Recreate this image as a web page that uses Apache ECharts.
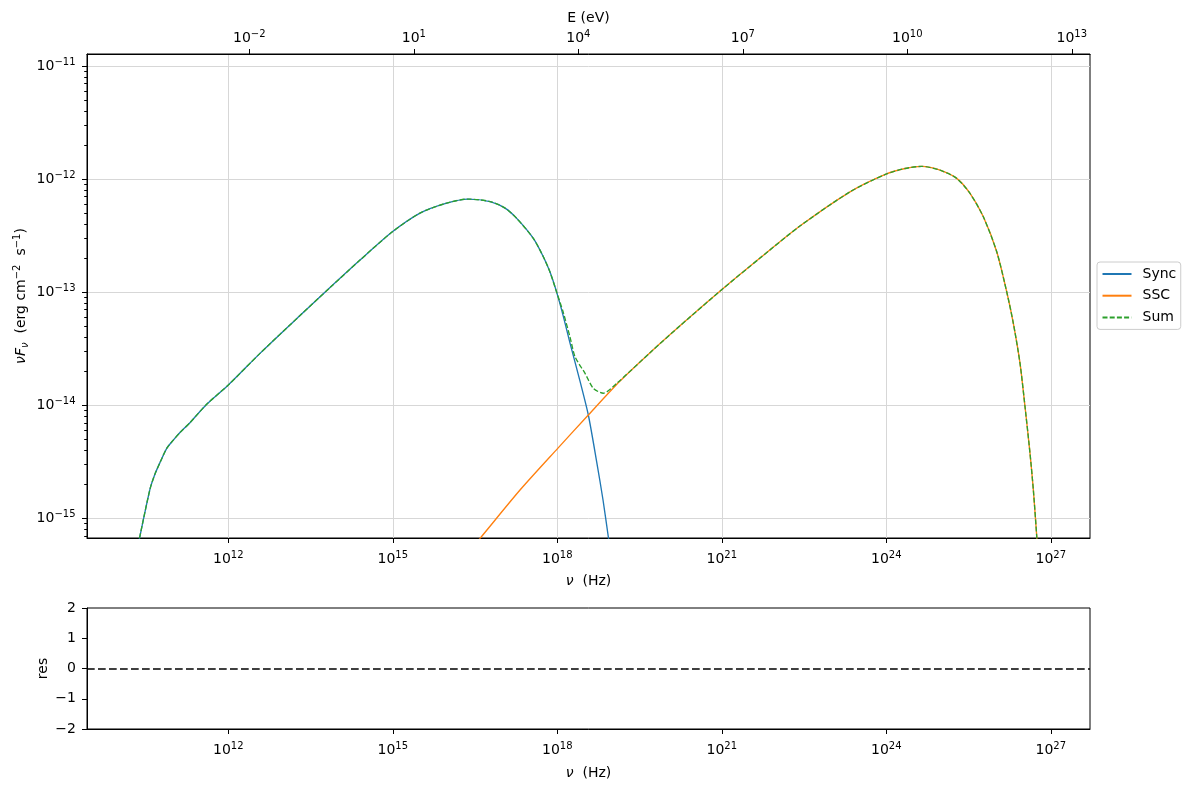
<!DOCTYPE html>
<html>
<head>
<meta charset="utf-8">
<script src="https://cdn.jsdelivr.net/npm/echarts@6/dist/echarts.min.js"></script>
<style>
html,body{margin:0;padding:0;background:#fff;}
#chart{width:1189px;height:789px;}
</style>
</head>
<body>
<div id="chart"></div>
<script>
// ---- data (log10 values) ----
const syncLogNu = [10.33, 10.380, 10.572, 10.663, 10.754, 10.877, 10.997, 11.119, 11.301, 11.606, 12.0, 12.578, 13.308, 13.855, 14.402, 14.986, 15.496, 15.952, 16.372, 16.773, 17.047, 17.260, 17.563, 17.745, 17.867, 17.989, 18.104, 18.232, 18.414, 18.566, 18.719, 18.834, 18.930, 18.998];
const syncLogF  = [-15.30, -15.177, -14.741, -14.608, -14.507, -14.381, -14.308, -14.241, -14.154, -13.991, -13.821, -13.541, -13.206, -12.959, -12.716, -12.468, -12.300, -12.216, -12.176, -12.198, -12.256, -12.347, -12.524, -12.686, -12.822, -13.001, -13.202, -13.450, -13.786, -14.086, -14.502, -14.838, -15.163, -15.39];

const sscLogNu = [16.408, 16.591, 17.320, 18.008, 18.566, 19.144, 19.691, 20.238, 21.013, 21.697, 22.424, 23.339, 23.983, 24.342, 24.646, 24.980, 25.284, 25.527, 25.770, 26.014, 26.196, 26.317, 26.439, 26.530, 26.621, 26.682, 26.744, 26.768];
const sscLogF  = [-15.28, -15.177, -14.750, -14.381, -14.086, -13.786, -13.535, -13.297, -12.972, -12.698, -12.415, -12.112, -11.958, -11.906, -11.887, -11.920, -11.993, -12.126, -12.333, -12.642, -12.996, -13.275, -13.629, -14.013, -14.425, -14.750, -15.163, -15.37];

const sumLogNu = [10.33, 10.380, 10.572, 10.663, 10.754, 10.877, 10.997, 11.119, 11.301, 11.606, 12.0, 12.578, 13.308, 13.855, 14.402, 14.986, 15.496, 15.952, 16.372, 16.773, 17.047, 17.260, 17.563, 17.745, 17.867, 17.989, 18.104, 18.232, 18.324, 18.506, 18.657, 18.839, 19.084, 19.691, 20.238, 21.013, 21.697, 22.424, 23.339, 23.983, 24.342, 24.646, 24.980, 25.284, 25.527, 25.770, 26.014, 26.196, 26.317, 26.439, 26.530, 26.621, 26.682, 26.744, 26.768];
const sumLogF  = [-15.30, -15.177, -14.741, -14.608, -14.507, -14.381, -14.308, -14.241, -14.154, -13.991, -13.821, -13.541, -13.206, -12.959, -12.716, -12.468, -12.300, -12.216, -12.176, -12.198, -12.256, -12.347, -12.524, -12.686, -12.822, -13.001, -13.171, -13.397, -13.571, -13.718, -13.850, -13.894, -13.806, -13.535, -13.297, -12.972, -12.698, -12.415, -12.112, -11.958, -11.906, -11.887, -11.920, -11.993, -12.126, -12.333, -12.642, -12.996, -13.275, -13.629, -14.013, -14.425, -14.750, -15.163, -15.37];

const nuTicks = [12, 15, 18, 21, 24, 27];
const eTicks = [-2, 1, 4, 7, 10, 13];
const fluxTicks = [-15, -14, -13, -12, -11];

// ---- axis ranges (log10) ----
const LOG_H = Math.log10(4.135667696e-15); // eV s
const xMin = 9.423, xMax = 27.715;
const yMin = -15.174, yMax = -10.893;

const minorTicks = [];
for (let n = -16; n <= -11; n++) {
  for (let k = 2; k <= 9; k++) {
    const v = n + Math.log10(k);
    if (v > yMin && v < yMax) minorTicks.push(v);
  }
}

const FONT = 'DejaVu Sans';
const FS = 14, SFS = 10;
function sci(v) {
  const e = Math.round(v);
  const s = e < 0 ? '\u2212' + (-e) : '' + e;
  return '{b|10}{s|' + s + '}';
}
const sciRich = {
  b: {fontFamily: FONT, fontSize: FS, lineHeight: 18, color: '#000'},
  s: {fontFamily: FONT, fontSize: SFS, lineHeight: 10, verticalAlign: 'top', color: '#000'}
};
const nameRich = {
  i: {fontFamily: FONT, fontSize: FS, fontStyle: 'italic', lineHeight: 18, color: '#000'},
  isub: {fontFamily: FONT, fontSize: SFS, fontStyle: 'italic', lineHeight: 10, verticalAlign: 'bottom', color: '#000'},
  n: {fontFamily: FONT, fontSize: FS, lineHeight: 18, color: '#000'},
  s: {fontFamily: FONT, fontSize: SFS, lineHeight: 10, verticalAlign: 'top', color: '#000'}
};
const blackLine = {show: true, onZero: false, lineStyle: {color: '#000', width: 1}};
const gridLine = {show: true, lineStyle: {color: '#d7d7d7', width: 1}};

const pairs = (xs, ys) => xs.map((x, i) => [x, ys[i]]);

const option = {
  animation: false,
  backgroundColor: '#fff',
  textStyle: {fontFamily: FONT},
  grid: [
    {left: 87, right: 99, top: 54, height: 484, show: true, borderColor: '#000', borderWidth: 1, backgroundColor: 'transparent', outerBoundsMode: 'none', containLabel: false},
    {left: 87, right: 99, top: 608, height: 121, show: true, borderColor: '#000', borderWidth: 1, backgroundColor: 'transparent', outerBoundsMode: 'none', containLabel: false}
  ],
  xAxis: [
    {
      type: 'value', gridIndex: 0, position: 'bottom', min: xMin, max: xMax,
      axisLine: blackLine,
      axisTick: {show: true, inside: false, length: 5, customValues: nuTicks, lineStyle: {color: '#000'}},
      axisLabel: {show: true, customValues: nuTicks, formatter: sci, rich: sciRich, margin: 12},
      splitLine: gridLine,
      name: '{i|ν}{n|  (Hz)}', nameLocation: 'middle', nameGap: 34, nameMoveOverlap: false,
      nameTextStyle: {rich: nameRich}
    },
    {
      type: 'value', gridIndex: 0, position: 'top', min: xMin + LOG_H, max: xMax + LOG_H,
      axisLine: blackLine,
      axisTick: {show: true, inside: false, length: 5, customValues: eTicks, lineStyle: {color: '#000'}},
      axisLabel: {show: true, customValues: eTicks, formatter: sci, rich: sciRich, margin: 7},
      splitLine: {show: false},
      name: 'E (eV)', nameLocation: 'middle', nameGap: 27, nameMoveOverlap: false,
      nameTextStyle: {fontFamily: FONT, fontSize: FS, lineHeight: 18, color: '#000'}
    },
    {
      type: 'value', gridIndex: 1, position: 'bottom', min: xMin, max: xMax,
      axisLine: blackLine,
      axisTick: {show: true, inside: false, length: 5, customValues: nuTicks, lineStyle: {color: '#000'}},
      axisLabel: {show: true, customValues: nuTicks, formatter: sci, rich: sciRich, margin: 12},
      splitLine: {show: false},
      name: '{i|ν}{n|  (Hz)}', nameLocation: 'middle', nameGap: 35, nameMoveOverlap: false,
      nameTextStyle: {rich: nameRich}
    }
  ],
  yAxis: [
    {
      type: 'value', gridIndex: 0, position: 'left', min: yMin, max: yMax,
      axisLine: blackLine,
      axisTick: {show: true, inside: false, length: 5, customValues: fluxTicks, lineStyle: {color: '#000'}},
      axisLabel: {show: true, customValues: fluxTicks, formatter: sci, rich: sciRich, margin: 11.5},
      splitLine: gridLine,
      name: '{i|νF}{isub|ν}{n|  (erg cm}{s|\u22122}{n|  s}{s|\u22121}{n|)}',
      nameLocation: 'middle', nameRotate: 90, nameGap: 57, nameMoveOverlap: false,
      nameTextStyle: {rich: nameRich}
    },
    {
      type: 'value', gridIndex: 0, position: 'left', offset: 0, min: yMin, max: yMax,
      axisLine: {show: false, onZero: false},
      axisTick: {show: true, inside: false, length: 2.8, customValues: minorTicks, lineStyle: {color: '#000'}},
      axisLabel: {show: false},
      splitLine: {show: false}
    },
    {
      type: 'value', gridIndex: 1, position: 'left', min: -2, max: 2, interval: 1,
      axisLine: blackLine,
      axisTick: {show: true, inside: false, length: 5, lineStyle: {color: '#000'}},
      axisLabel: {show: true, margin: 11, fontFamily: FONT, fontSize: FS, color: '#000',
        formatter: v => (v < 0 ? '\u2212' + (-v) : '' + v)},
      splitLine: {show: false},
      name: 'res', nameLocation: 'middle', nameRotate: 90, nameGap: 36, nameMoveOverlap: false,
      nameTextStyle: {fontFamily: FONT, fontSize: FS, lineHeight: 16, color: '#000'}
    }
  ],
  legend: {
    show: true, orient: 'vertical', left: 1097, top: 262,
    data: ['Sync', 'SSC', 'Sum'],
    itemWidth: 29, itemHeight: 14, itemGap: 7.7,
    padding: [5, 4.5, 5, 4.5],
    itemStyle: {opacity: 0},
    borderColor: '#cccccc', borderWidth: 1, borderRadius: 3, backgroundColor: '#fff',
    textStyle: {fontFamily: FONT, fontSize: FS, lineHeight: 14, color: '#000', padding: [0, 0, 0, 6]}
  },
  series: [
    {
      name: 'Sync', type: 'line', xAxisIndex: 0, yAxisIndex: 0,
      data: pairs(syncLogNu, syncLogF), symbol: 'none', clip: true, smooth: 0.25,
      lineStyle: {color: '#1f77b4', width: 1.35}, itemStyle: {color: '#1f77b4'}
    },
    {
      name: 'SSC', type: 'line', xAxisIndex: 0, yAxisIndex: 0,
      data: pairs(sscLogNu, sscLogF), symbol: 'none', clip: true, smooth: 0.25,
      lineStyle: {color: '#ff7f0e', width: 1.35}, itemStyle: {color: '#ff7f0e'}
    },
    {
      name: 'Sum', type: 'line', xAxisIndex: 0, yAxisIndex: 0,
      data: pairs(sumLogNu, sumLogF), symbol: 'none', clip: true, smooth: 0.25,
      lineStyle: {color: '#2ca02c', width: 1.35, type: [5, 2.2]}, itemStyle: {color: '#2ca02c'}
    },
    {
      name: 'res', type: 'line', xAxisIndex: 2, yAxisIndex: 2, data: [],
      markLine: {
        silent: true, symbol: 'none', animation: false,
        label: {show: false},
        lineStyle: {color: '#000', width: 1.5, type: [7.7, 3.3]},
        data: [{yAxis: 0}]
      }
    }
  ]
};

const chart = echarts.init(document.getElementById('chart'), null, {renderer: 'canvas'});
chart.setOption(option);
</script>
</body>
</html>
